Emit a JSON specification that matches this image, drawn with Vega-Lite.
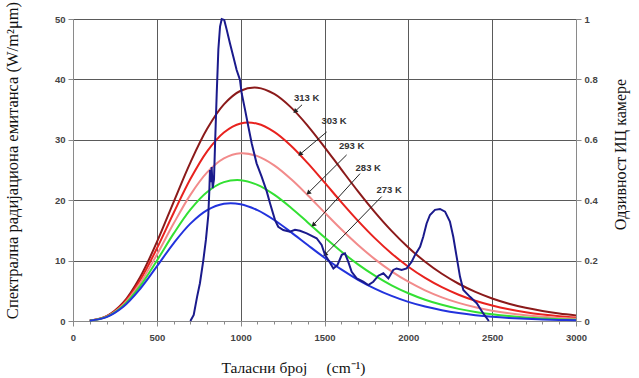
{
  "$schema": "https://vega.github.io/schema/vega-lite/v6.json",
  "width": 503,
  "height": 302,
  "autosize": {"type": "none"},
  "padding": {"left": 73, "top": 19, "right": 63, "bottom": 57},
  "background": "white",
  "config": {
    "view": {"stroke": null},
    "axis": {
      "labelFont": "Liberation Sans",
      "labelFontWeight": "bold",
      "labelFontSize": 9.5,
      "labelColor": "#444444",
      "domainColor": "#8a8a8a",
      "tickColor": "#8a8a8a",
      "gridColor": "#5a5a5a",
      "gridWidth": 1,
      "titleFont": "Liberation Serif",
      "titleFontWeight": "normal",
      "titleColor": "#111111"
    },
    "axisX": {
      "tickCount": 30,
      "labelExpr": "datum.value % 500 === 0 ? format(datum.value, 'd') : ''",
      "labelOverlap": false,
      "labelFlush": false,
      "labelPadding": 6,
      "grid": true,
      "tickSize": {"condition": {"test": "datum.value % 500 === 0", "value": 5}, "value": 3}
    }
  },
  "datasets": {
    "planck": [
      {"nu": 100, "t313": 0.064, "t303": 0.062, "t293": 0.059, "t283": 0.057, "t273": 0.054},
      {"nu": 200, "t313": 0.794, "t303": 0.756, "t293": 0.717, "t283": 0.679, "t273": 0.641},
      {"nu": 300, "t313": 3.06, "t303": 2.881, "t293": 2.704, "t283": 2.528, "t273": 2.355},
      {"nu": 400, "t313": 7.245, "t303": 6.743, "t293": 6.251, "t283": 5.769, "t273": 5.298},
      {"nu": 500, "t313": 13.053, "t303": 12.001, "t293": 10.979, "t283": 9.989, "t273": 9.033},
      {"nu": 600, "t313": 19.699, "t303": 17.881, "t293": 16.132, "t283": 14.458, "t273": 12.862},
      {"nu": 700, "t313": 26.233, "t303": 23.493, "t293": 20.889, "t283": 18.43, "t273": 16.12},
      {"nu": 800, "t313": 31.81, "t303": 28.091, "t293": 24.606, "t283": 21.362, "t273": 18.361},
      {"nu": 900, "t313": 35.856, "t303": 31.215, "t293": 26.926, "t283": 22.993, "t273": 19.414},
      {"nu": 1000, "t313": 38.117, "t303": 32.705, "t293": 27.775, "t283": 23.323, "t273": 19.34},
      {"nu": 1100, "t313": 38.62, "t303": 32.653, "t293": 27.296, "t283": 22.535, "t273": 18.349},
      {"nu": 1200, "t313": 37.592, "t303": 31.315, "t293": 25.764, "t283": 20.911, "t273": 16.716},
      {"nu": 1300, "t313": 35.369, "t303": 29.025, "t293": 23.501, "t283": 18.75, "t273": 14.714},
      {"nu": 1400, "t313": 32.322, "t303": 26.13, "t293": 20.819, "t283": 16.326, "t273": 12.577},
      {"nu": 1500, "t313": 28.802, "t303": 22.936, "t293": 17.982, "t283": 13.86, "t273": 10.481},
      {"nu": 1600, "t313": 25.106, "t303": 19.693, "t293": 15.192, "t283": 11.509, "t273": 8.543},
      {"nu": 1700, "t313": 21.462, "t303": 16.583, "t293": 12.587, "t283": 9.372, "t273": 6.828},
      {"nu": 1800, "t313": 18.034, "t303": 13.724, "t293": 10.25, "t283": 7.501, "t273": 5.364},
      {"nu": 1900, "t313": 14.922, "t303": 11.185, "t293": 8.22, "t283": 5.912, "t273": 4.15},
      {"nu": 2000, "t313": 12.177, "t303": 8.99, "t293": 6.501, "t283": 4.595, "t273": 3.166},
      {"nu": 2100, "t313": 9.814, "t303": 7.136, "t293": 5.077, "t283": 3.527, "t273": 2.385},
      {"nu": 2200, "t313": 7.82, "t303": 5.601, "t293": 3.921, "t283": 2.677, "t273": 1.777},
      {"nu": 2300, "t313": 6.167, "t303": 4.351, "t293": 2.997, "t283": 2.011, "t273": 1.31},
      {"nu": 2400, "t313": 4.818, "t303": 3.348, "t293": 2.269, "t283": 1.496, "t273": 0.957},
      {"nu": 2500, "t313": 3.731, "t303": 2.554, "t293": 1.703, "t283": 1.104, "t273": 0.693},
      {"nu": 2600, "t313": 2.867, "t303": 1.932, "t293": 1.268, "t283": 0.808, "t273": 0.498},
      {"nu": 2700, "t313": 2.186, "t303": 1.452, "t293": 0.937, "t283": 0.587, "t273": 0.355},
      {"nu": 2800, "t313": 1.656, "t303": 1.083, "t293": 0.688, "t283": 0.423, "t273": 0.251},
      {"nu": 2900, "t313": 1.246, "t303": 0.803, "t293": 0.502, "t283": 0.303, "t273": 0.177},
      {"nu": 3000, "t313": 0.932, "t303": 0.591, "t293": 0.364, "t283": 0.216, "t273": 0.124}
    ],
    "camera": [
      {"nu": 700, "r": 0}, {"nu": 720, "r": 0.02}, {"nu": 740, "r": 0.08}, {"nu": 757, "r": 0.125},
      {"nu": 777, "r": 0.2}, {"nu": 793, "r": 0.27}, {"nu": 807, "r": 0.35}, {"nu": 813, "r": 0.43},
      {"nu": 817, "r": 0.5}, {"nu": 822, "r": 0.46}, {"nu": 827, "r": 0.51}, {"nu": 833, "r": 0.44},
      {"nu": 841, "r": 0.47}, {"nu": 847, "r": 0.58}, {"nu": 857, "r": 0.75}, {"nu": 867, "r": 0.9},
      {"nu": 877, "r": 0.975}, {"nu": 887, "r": 1.0}, {"nu": 902, "r": 0.997}, {"nu": 917, "r": 0.964},
      {"nu": 936, "r": 0.92}, {"nu": 956, "r": 0.876}, {"nu": 976, "r": 0.831}, {"nu": 996, "r": 0.798},
      {"nu": 1006, "r": 0.754}, {"nu": 1026, "r": 0.7}, {"nu": 1046, "r": 0.643}, {"nu": 1066, "r": 0.588},
      {"nu": 1095, "r": 0.522}, {"nu": 1125, "r": 0.478}, {"nu": 1155, "r": 0.43}, {"nu": 1175, "r": 0.39},
      {"nu": 1205, "r": 0.334}, {"nu": 1224, "r": 0.312}, {"nu": 1254, "r": 0.301}, {"nu": 1294, "r": 0.296},
      {"nu": 1324, "r": 0.302}, {"nu": 1354, "r": 0.299}, {"nu": 1394, "r": 0.29}, {"nu": 1453, "r": 0.274},
      {"nu": 1483, "r": 0.252}, {"nu": 1503, "r": 0.219}, {"nu": 1523, "r": 0.202}, {"nu": 1553, "r": 0.174},
      {"nu": 1577, "r": 0.185}, {"nu": 1603, "r": 0.219}, {"nu": 1622, "r": 0.224}, {"nu": 1642, "r": 0.196},
      {"nu": 1662, "r": 0.163}, {"nu": 1692, "r": 0.141}, {"nu": 1731, "r": 0.13}, {"nu": 1761, "r": 0.119},
      {"nu": 1791, "r": 0.13}, {"nu": 1821, "r": 0.15}, {"nu": 1851, "r": 0.158}, {"nu": 1881, "r": 0.141},
      {"nu": 1910, "r": 0.169}, {"nu": 1930, "r": 0.174}, {"nu": 1960, "r": 0.169}, {"nu": 1990, "r": 0.174},
      {"nu": 2020, "r": 0.196}, {"nu": 2040, "r": 0.219}, {"nu": 2070, "r": 0.246}, {"nu": 2089, "r": 0.279},
      {"nu": 2109, "r": 0.323}, {"nu": 2129, "r": 0.351}, {"nu": 2159, "r": 0.368}, {"nu": 2189, "r": 0.371},
      {"nu": 2219, "r": 0.362}, {"nu": 2248, "r": 0.329}, {"nu": 2268, "r": 0.279}, {"nu": 2288, "r": 0.213},
      {"nu": 2308, "r": 0.147}, {"nu": 2328, "r": 0.103}, {"nu": 2368, "r": 0.08}, {"nu": 2408, "r": 0.059},
      {"nu": 2447, "r": 0.025}, {"nu": 2480, "r": 0}
    ],
    "ann": [
      {"label": "313 K", "lx": 1393, "ly": 37.0, "x1": 1366, "y1": 35.8, "x2": 1324, "y2": 34.7},
      {"label": "303 K", "lx": 1557, "ly": 33.1, "x1": 1513, "y1": 31.3, "x2": 1354, "y2": 27.6},
      {"label": "293 K", "lx": 1662, "ly": 29.0, "x1": 1632, "y1": 27.5, "x2": 1403, "y2": 21.2},
      {"label": "283 K", "lx": 1761, "ly": 25.4, "x1": 1712, "y1": 24.4, "x2": 1433, "y2": 15.9},
      {"label": "273 K", "lx": 1886, "ly": 21.7, "x1": 1841, "y1": 20.6, "x2": 1503, "y2": 11.0}
    ]
  },
  "layer": [
    {
      "layer": [
        {
          "data": {"name": "planck"},
          "transform": [{"fold": ["t313", "t303", "t293", "t283", "t273"], "as": ["T", "M"]}],
          "mark": {"type": "line", "strokeWidth": 2, "interpolate": "catmull-rom"},
          "encoding": {
            "x": {
              "field": "nu", "type": "quantitative",
              "scale": {"domain": [0, 3000], "nice": false},
              "axis": {
                "title": "Таласни број\u00a0\u00a0\u00a0\u00a0\u00a0(cm⁻¹)",
                "grid": true,
                "gridOpacity": {"condition": {"test": "datum.value % 500 === 0", "value": 1}, "value": 0},
                "titleFontSize": 15.5,
                "titleX": 220,
                "titleY": 46,
                "titleBaseline": "middle"
              }
            },
            "y": {
              "field": "M", "type": "quantitative",
              "scale": {"domain": [0, 50], "nice": false},
              "axis": {
                "title": "Спектрална радијациона емитанса (W/m²μm)",
                "values": [0, 10, 20, 30, 40, 50],
                "grid": true,
                "tickSize": 5,
                "labelPadding": 3,
                "titleFontSize": 16.5,
                "titleX": -61,
                "titleY": 141,
                "titleBaseline": "middle"
              }
            },
            "color": {
              "field": "T", "type": "nominal",
              "scale": {"domain": ["t313", "t303", "t293", "t283", "t273"], "range": ["#8b1a1a", "#e8221e", "#f28b8b", "#33e033", "#2233dd"]},
              "legend": null
            }
          }
        },
        {
          "data": {"name": "ann"},
          "mark": {"type": "rule", "color": "#222222", "strokeWidth": 1},
          "encoding": {
            "x": {"field": "x1", "type": "quantitative", "scale": {"domain": [0, 3000], "nice": false}},
            "y": {"field": "y1", "type": "quantitative", "scale": {"domain": [0, 50], "nice": false}},
            "x2": {"field": "x2"},
            "y2": {"field": "y2"}
          }
        },
        {
          "data": {"name": "ann"},
          "mark": {"type": "point", "shape": "triangle-up", "filled": true, "size": 28, "angle": 228, "color": "#222222", "opacity": 1},
          "encoding": {
            "x": {"field": "x2", "type": "quantitative", "scale": {"domain": [0, 3000], "nice": false}},
            "y": {"field": "y2", "type": "quantitative", "scale": {"domain": [0, 50], "nice": false}}
          }
        },
        {
          "data": {"name": "ann"},
          "mark": {"type": "text", "font": "Liberation Sans", "fontWeight": "bold", "fontSize": 9.5, "color": "#333333"},
          "encoding": {
            "x": {"field": "lx", "type": "quantitative", "scale": {"domain": [0, 3000], "nice": false}},
            "y": {"field": "ly", "type": "quantitative", "scale": {"domain": [0, 50], "nice": false}},
            "text": {"field": "label"}
          }
        }
      ]
    },
    {
      "data": {"name": "camera"},
      "mark": {"type": "line", "strokeWidth": 2, "color": "#1a1a8c"},
      "encoding": {
        "x": {
          "field": "nu", "type": "quantitative", "scale": {"domain": [0, 3000], "nice": false},
          "axis": {
            "grid": true,
            "gridOpacity": {"condition": {"test": "datum.value % 500 === 0", "value": 1}, "value": 0}
          }
        },
        "y": {
          "field": "r", "type": "quantitative",
          "scale": {"domain": [0, 1], "nice": false},
          "axis": {
            "orient": "right",
            "title": "Одзивност ИЦ камере",
            "values": [0, 0.2, 0.4, 0.6, 0.8, 1],
            "format": "~g",
            "grid": false,
            "tickSize": 5,
            "labelPadding": 3,
            "titleFontSize": 16,
            "titleAngle": 270,
            "titleX": 44,
            "titleY": 135,
            "titleBaseline": "middle"
          }
        }
      }
    }
  ],
  "resolve": {"scale": {"y": "independent"}, "axis": {"y": "independent"}}
}
